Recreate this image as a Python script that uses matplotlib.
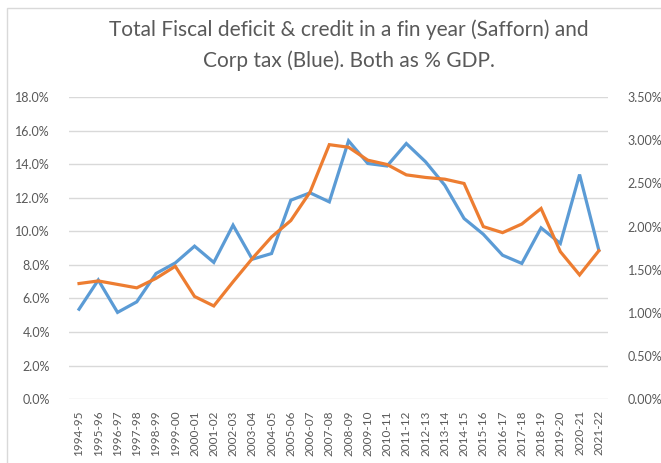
import matplotlib
matplotlib.use("Agg")
import matplotlib.pyplot as plt
from matplotlib.patches import Rectangle
from matplotlib.ticker import FuncFormatter

years = ["1994-95", "1995-96", "1996-97", "1997-98", "1998-99", "1999-00", "2000-01",
         "2001-02", "2002-03", "2003-04", "2004-05", "2005-06", "2006-07", "2007-08",
         "2008-09", "2009-10", "2010-11", "2011-12", "2012-13", "2013-14", "2014-15",
         "2015-16", "2016-17", "2017-18", "2018-19", "2019-20", "2020-21", "2021-22"]

# blue series, left axis (%)
corp_tax = [5.36, 7.1, 5.17, 5.8, 7.49, 8.12, 9.12, 8.15, 10.37, 8.34, 8.68, 11.86,
            12.3, 11.76, 15.4, 14.05, 13.9, 15.24, 14.15, 12.75, 10.77, 9.83, 8.58,
            8.09, 10.21, 9.28, 13.39, 8.88]

# saffron series, right axis (%)
deficit_credit = [1.34, 1.37, 1.33, 1.29, 1.40, 1.54, 1.19, 1.08, 1.36, 1.63, 1.88,
                  2.07, 2.40, 2.95, 2.92, 2.77, 2.72, 2.60, 2.57, 2.55, 2.50, 2.00,
                  1.93, 2.03, 2.21, 1.71, 1.44, 1.72]

left_ticks = [0, 2, 4, 6, 8, 10, 12, 14, 16, 18]
right_ticks = [0, 0.5, 1.0, 1.5, 2.0, 2.5, 3.0, 3.5]

GREY = "#595959"
GRID = "#d9d9d9"
FONT = "Lato"

fig = plt.figure(figsize=(6.61, 4.63), dpi=100)
ax = fig.add_axes([0.105, 0.138, 0.8155, 0.652])
ax2 = ax.twinx()

x = range(len(years))
ax.plot(x, corp_tax, color="#5b9bd5", lw=2.3, solid_joinstyle="miter", zorder=3)
ax2.plot(x, deficit_credit, color="#ed7d31", lw=2.3, solid_joinstyle="miter", zorder=3)

ax.set_xlim(-0.5, len(years) - 0.5)
ax.set_ylim(0, 18)
ax2.set_ylim(0, 3.5)
ax.set_yticks(left_ticks)
ax2.set_yticks(right_ticks)
ax.yaxis.set_major_formatter(FuncFormatter(lambda v, p: f"{v:.1f}%"))
ax2.yaxis.set_major_formatter(FuncFormatter(lambda v, p: f"{v:.2f}%"))

ax.set_xticks(list(x))
ax.set_xticklabels(years, rotation=90)

for a in (ax, ax2):
    for s in a.spines.values():
        s.set_visible(False)
    a.tick_params(length=0, colors=GREY, labelsize=9)
    for lbl in a.get_xticklabels() + a.get_yticklabels():
        lbl.set_fontfamily(FONT)
ax.tick_params(axis="y", pad=14)
ax2.tick_params(axis="y", pad=14)
ax.tick_params(axis="x", pad=8, labelsize=8.5)

ax.yaxis.grid(True, color=GRID, lw=1)
ax.set_axisbelow(True)

fig.text(0.528, 1 - 30 / 463, "Total Fiscal deficit & credit in a fin year (Safforn) and",
         ha="center", va="center", fontsize=15, color=GREY, family=FONT)
fig.text(0.528, 1 - 61 / 463, "Corp tax (Blue). Both as % GDP.",
         ha="center", va="center", fontsize=15, color=GREY, family=FONT)

# chart frame
fig.add_artist(Rectangle((7 / 661, -0.1), 1.2, 1 - 8 / 463 + 0.1,
                         transform=fig.transFigure, fill=False, ec=GRID, lw=1))

fig.savefig("out.png", dpi=100)
